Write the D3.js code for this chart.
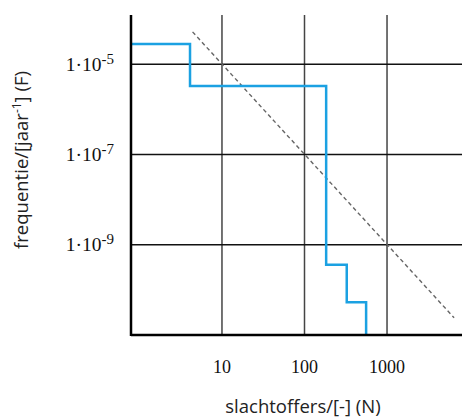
<!DOCTYPE html>
<html>
<head>
<meta charset="utf-8">
<script src="https://cdn.jsdelivr.net/npm/d3@7"></script>
<style>
    body { margin: 0; background: #fff; }
    svg { display: block; }
</style>
</head>
<body>
<svg id="chart"></svg>
<script>
// FN curve (steps)
const stepN = [0.79, 4.1, 183, 325, 558];
const stepF = [2.8e-5, 3.3e-6, 3.6e-10, 5.3e-11, 1e-11];

// norm line end points
const normN = [4.4, 6500];
const normF = [5.2e-5, 2.4e-11];

// ticks
const xTicks = [10, 100, 1000];
const yTicks = [1e-5, 1e-7, 1e-9];
const yTickExp = ["-5", "-7", "-9"];

const width = 462;
const height = 419;

const svg = d3.select("#chart").attr("width", width).attr("height", height);

const x = d3.scaleLog().domain([0.79, 8100]).range([131, 462]);
const y = d3.scaleLog().domain([1e-11, 1.23e-4]).range([335, 15]);

const serif = "'Liberation Serif', 'Times New Roman', serif";
const sans = "'Open Sans', 'Noto Sans', sans-serif";

// grid lines
svg.append("g").selectAll("line").data(xTicks).join("line")
    .attr("x1", (d) => x(d)).attr("x2", (d) => x(d))
    .attr("y1", y.range()[1]).attr("y2", y.range()[0])
    .attr("stroke", "#444").attr("stroke-width", 1.5);

svg.append("g").selectAll("line").data(yTicks).join("line")
    .attr("x1", x.range()[0]).attr("x2", x.range()[1])
    .attr("y1", (d) => y(d)).attr("y2", (d) => y(d))
    .attr("stroke", "#111").attr("stroke-width", 1.5);

// norm line (dashed)
const normLine = d3.line().x((d) => x(d[0])).y((d) => y(d[1]));
svg.append("path")
    .datum(d3.zip(normN, normF))
    .attr("d", normLine)
    .attr("fill", "none")
    .attr("stroke", "#666")
    .attr("stroke-width", 1.4)
    .attr("stroke-dasharray", "4,3");

// FN step curve
const stepLine = d3.line().curve(d3.curveStepAfter).x((d) => x(d[0])).y((d) => y(d[1]));
svg.append("path")
    .datum(d3.zip(stepN, stepF))
    .attr("d", stepLine)
    .attr("fill", "none")
    .attr("stroke", "#1ba1e2")
    .attr("stroke-width", 2.5);

// axes lines
svg.append("line")
    .attr("x1", x.range()[0]).attr("x2", x.range()[0])
    .attr("y1", y.range()[1]).attr("y2", y.range()[0] + 1)
    .attr("stroke", "#000").attr("stroke-width", 2.5);
svg.append("line")
    .attr("x1", x.range()[0]).attr("x2", x.range()[1])
    .attr("y1", y.range()[0]).attr("y2", y.range()[0])
    .attr("stroke", "#000").attr("stroke-width", 2.5);

// x tick labels
svg.append("g").selectAll("text").data(xTicks).join("text")
    .attr("x", (d) => x(d))
    .attr("y", 373)
    .attr("text-anchor", "middle")
    .attr("font-family", serif)
    .attr("font-size", 18)
    .attr("fill", "#111")
    .text((d) => d);

// y tick labels: 1·10^exp
const yLab = svg.append("g").selectAll("text").data(yTicks).join("text")
    .attr("x", 114)
    .attr("y", (d) => y(d) + 6.5)
    .attr("text-anchor", "end")
    .attr("font-family", serif)
    .attr("font-size", 19.5)
    .attr("fill", "#111");
yLab.append("tspan").text("1\u00b710");
yLab.append("tspan")
    .attr("dy", -7)
    .attr("font-size", 15)
    .text((d, i) => yTickExp[i]);

// axis titles
svg.append("text")
    .attr("x", 303)
    .attr("y", 413)
    .attr("text-anchor", "middle")
    .attr("font-family", sans)
    .attr("font-size", 18.5)
    .attr("fill", "#222")
    .text("slachtoffers/[-] (N)");

const yTitle = svg.append("text")
    .attr("transform", "translate(28,160) rotate(-90)")
    .attr("text-anchor", "middle")
    .attr("font-family", sans)
    .attr("font-size", 18.5)
    .attr("fill", "#222");
yTitle.append("tspan").text("frequentie/[jaar");
yTitle.append("tspan").attr("dy", -7).attr("font-size", 12).text("-1");
yTitle.append("tspan").attr("dy", 7).text("] (F)");
</script>
</body>
</html>
